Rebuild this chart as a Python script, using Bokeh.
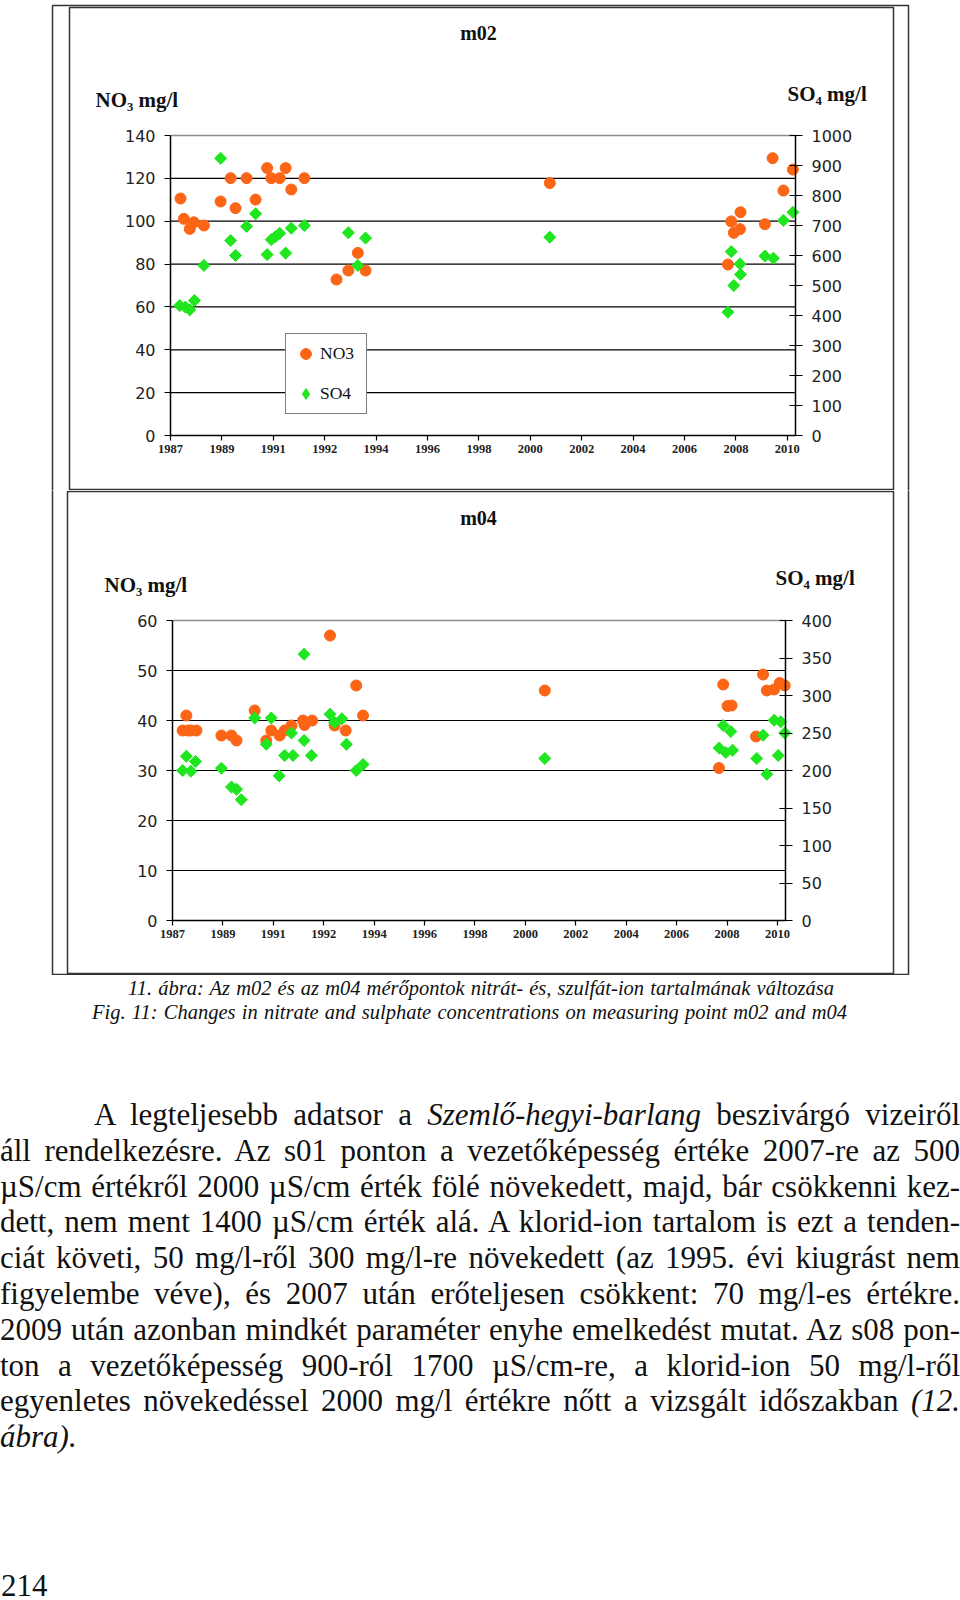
import numpy as np
from bokeh.plotting import figure
from bokeh.models import (Range1d, LinearAxis, FixedTicker, BoxAnnotation, Label,
                          Div, Legend)
from bokeh.layouts import column
from bokeh.embed import file_html
from bokeh.resources import INLINE

# ---------------- data ----------------
x_tick_pos = [1987, 1989, 1991, 1993, 1995, 1997, 1999, 2001, 2003, 2005, 2007, 2009, 2011]
x_tick_labels = ["1987", "1989", "1991", "1992", "1994", "1996", "1998",
                 "2000", "2002", "2004", "2006", "2008", "2010"]

m02_no3_x = [1987.39, 1987.52, 1987.75, 1987.91, 1988.30, 1988.95, 1989.34, 1989.53,
             1989.96, 1990.31, 1990.76, 1990.92, 1991.25, 1991.48, 1991.70, 1992.21,
             1993.46, 1993.92, 1994.29, 1994.59, 2001.76, 2008.69, 2008.82, 2008.92,
             2009.16, 2009.18, 2010.13, 2010.43, 2010.85, 2011.22]
m02_no3 = [110.6, 101.1, 96.4, 99.5, 98.0, 109.2, 120.1, 106.1, 120.1, 110.1, 124.8,
           120.1, 120.1, 124.8, 114.8, 120.1, 72.8, 77.0, 85.2, 77.0, 117.8, 79.8,
           99.9, 94.6, 96.3, 104.2, 98.6, 129.4, 114.3, 124.1]

m02_so4_x = [1987.36, 1987.58, 1987.75, 1987.93, 1988.30, 1988.95, 1989.34, 1989.53,
             1989.96, 1990.31, 1990.76, 1990.92, 1991.09, 1991.25, 1991.48, 1991.70,
             1992.21, 1993.92, 1994.29, 1994.59, 2001.76, 2008.69, 2008.82, 2008.92,
             2009.16, 2009.18, 2010.13, 2010.46, 2010.85, 2011.22]
m02_so4 = [433, 428, 419, 450, 567, 924, 650, 600, 697, 739, 603, 653, 663, 674, 608,
           691, 700, 676, 567, 658, 661, 411, 613, 500, 572, 537, 598, 591, 717, 744]

m04_no3_x = [1987.40, 1987.55, 1987.62, 1987.73, 1987.95, 1988.94, 1989.34, 1989.54,
             1990.26, 1990.72, 1990.92, 1991.25, 1991.45, 1991.72, 1992.18, 1992.24,
             1992.54, 1993.25, 1993.43, 1993.87, 1994.29, 1994.56, 2001.77, 2008.85,
             2009.02, 2009.18, 2008.68, 2010.15, 2010.43, 2010.58, 2010.87, 2011.09,
             2011.29]
m04_no3 = [38.0, 41.0, 38.0, 38.0, 38.0, 37.0, 37.0, 36.0, 42.0, 36.0, 38.0, 37.0,
           38.0, 39.0, 40.0, 39.1, 40.0, 57.0, 39.0, 38.0, 47.0, 41.0, 46.0, 47.2,
           42.9, 43.0, 30.5, 36.8, 49.2, 46.0, 46.2, 47.5, 47.0]

m04_so4_x = [1987.40, 1987.55, 1987.73, 1987.91, 1988.94, 1989.34, 1989.54, 1989.73,
             1990.26, 1990.72, 1990.92, 1991.23, 1991.45, 1991.72, 1991.78, 1992.22,
             1992.22, 1992.51, 1993.25, 1993.43, 1993.72, 1993.90, 1994.29, 1994.56,
             2001.77, 2008.69, 2008.85, 2008.95, 2009.15, 2009.22, 2010.18, 2010.43,
             2010.58, 2010.87, 2011.03, 2011.13, 2011.29]
m04_so4 = [200, 219, 199, 212, 203, 178, 175, 161, 270, 235, 270, 193, 220, 250, 220,
           355, 240, 220, 275, 264, 269, 235, 200, 208, 216, 230, 260, 224, 252, 227,
           216, 247, 195, 267, 220, 265, 250]

series_names = ["NO3", "SO4"]

ORANGE = "#FB6515"
GREEN = "#1FE61F"
X0, X1 = 1987.0, 2011.32


def axis_style(**kw):
    base = dict(minor_tick_in=0, minor_tick_out=0, axis_line_color="black",
                axis_line_width=1.5, major_tick_line_color="black",
                major_tick_line_width=1.2, major_label_text_color="#222222")
    base.update(kw)
    return base


def make_chart(H, fl, fr, ft, fb, y_max, y_step, r_max, r_step, title,
               no3_x, no3, so4_x, so4, nl, sl, legend=False):
    # fl/fr: pixel x of X0/X1 ; ft/fb: pixel y (from top) of y_max / 0
    xs = (X1 - X0) / (fr - fl)
    ys = y_max / (fb - ft)
    rs = r_max / (fb - ft)
    p = figure(width=960, height=H, title=None,
               x_range=Range1d(X0 - fl * xs, X1 + (960 - fr) * xs),
               y_range=Range1d(-(H - fb) * ys, y_max + ft * ys),
               output_backend="svg", toolbar_location=None,
               x_axis_type=None, y_axis_type=None, min_border=0,
               background_fill_color="white", border_fill_color="white",
               outline_line_color=None)
    p.margin = (0, 0, 0, 0)
    p.extra_y_ranges = {"so4": Range1d(-(H - fb) * rs, r_max + ft * rs)}

    left_ticks = list(range(0, y_max + 1, y_step))
    right_ticks = list(range(0, r_max + 1, r_step))

    # horizontal grid lines (left-axis ticks) and grey top line
    p.segment(x0=[X0] * (len(left_ticks) - 2), x1=[X1] * (len(left_ticks) - 2),
              y0=left_ticks[1:-1], y1=left_ticks[1:-1], line_color="black",
              line_width=1.2)
    p.segment(x0=[X0], x1=[X1], y0=[y_max], y1=[y_max], line_color="#8c8c8c",
              line_width=1.5)

    la = LinearAxis(fixed_location=X0, bounds=(0, y_max),
                    ticker=FixedTicker(ticks=left_ticks),
                    **axis_style(major_tick_in=0, major_tick_out=6, major_label_standoff=9,
                                 major_label_text_font="DejaVu Sans",
                                 major_label_text_font_size="16px"))
    p.add_layout(la, "left")

    ra = LinearAxis(y_range_name="so4", fixed_location=X1, bounds=(0, r_max),
                    ticker=FixedTicker(ticks=right_ticks),
                    **axis_style(major_tick_in=6, major_tick_out=7, major_label_standoff=9,
                                 major_label_text_font="DejaVu Sans",
                                 major_label_text_font_size="16px"))
    p.add_layout(ra, "right")

    ba = LinearAxis(fixed_location=0, bounds=(X0, X1),
                    ticker=FixedTicker(ticks=x_tick_pos),
                    major_label_overrides=dict(zip(x_tick_pos, x_tick_labels)),
                    **axis_style(major_tick_in=0, major_tick_out=5, major_label_standoff=4,
                                 major_label_text_font="Liberation Serif",
                                 major_label_text_font_style="bold",
                                 major_label_text_font_size="12.5px"))
    p.add_layout(ba, "below")

    r1 = p.scatter(no3_x, no3, marker="circle", size=11, fill_color=ORANGE,
                   line_color=ORANGE)
    # narrow diamond underneath (used as legend swatch, since legends ignore angle)
    r2k = p.scatter(so4_x, so4, marker="diamond", size=11, fill_color=GREEN,
                    line_color=GREEN, y_range_name="so4")
    p.scatter(so4_x, so4, marker="square", angle=np.pi / 4, size=8.5,
              fill_color=GREEN, line_color=GREEN, y_range_name="so4")

    if legend:
        lg = Legend(items=[(series_names[0], [r1]), (series_names[1], [r2k])],
                    location=(285, H - 414), margin=0, padding=6, spacing=13,
                    glyph_width=27, glyph_height=27, label_standoff=1, label_width=40,
                    label_height=27,
                    label_text_font="Liberation Serif", label_text_font_size="17.5px",
                    label_text_color="#111111", border_line_color="black",
                    border_line_width=1.2, background_fill_color="white",
                    background_fill_alpha=1.0)
        p.add_layout(lg)

    p.add_layout(Label(x=478, y=title[1], x_units="canvas", y_units="canvas",
                       text=title[0], text_align="center", text_baseline="alphabetic",
                       text_font="Liberation Serif", text_font_style="bold",
                       text_font_size="20px", text_color="#111111"))
    p.add_layout(Label(x=nl[0], y=nl[1], x_units="canvas", y_units="canvas",
                       text="NO\u2083 mg/l", text_align="left", text_baseline="alphabetic",
                       text_font="Liberation Serif", text_font_style="bold",
                       text_font_size="21px", text_color="#111111"))
    p.add_layout(Label(x=sl[0], y=sl[1], x_units="canvas", y_units="canvas",
                       text="SO\u2084 mg/l", text_align="left", text_baseline="alphabetic",
                       text_font="Liberation Serif", text_font_style="bold",
                       text_font_size="21px", text_color="#111111"))
    return p


p1 = make_chart(490, 170, 795, 135, 435, 140, 20, 1000, 100, ("m02", 32),
                m02_no3_x, m02_no3, m02_so4_x, m02_so4, (95, 99), (787, 93),
                legend=True)
p2 = make_chart(485, 172, 785, 130, 430, 60, 10, 400, 50, ("m04", 27),
                m04_no3_x, m04_no3, m04_so4_x, m04_so4, (104, 94), (775, 87))


# page frames (canvas units, y measured downward from canvas top)
def frame_box(p, left, right, top, bottom):
    p.add_layout(BoxAnnotation(left=left, right=right, top=top, bottom=bottom,
                               left_units="canvas", right_units="canvas",
                               top_units="canvas", bottom_units="canvas",
                               fill_color=None, fill_alpha=0, line_color="#333333",
                               line_width=1.5, line_alpha=1.0))


frame_box(p1, 52, 908, 5, 530)      # outer page frame (upper part)
frame_box(p1, 69, 893, 7, 489)      # m02 box
frame_box(p2, 52, 908, -40, 484)    # outer page frame (lower part)
frame_box(p2, 67, 893, 1, 483)      # m04 box

# ---------------- text below the charts ----------------
caption1 = "11. ábra: Az m02 és az m04 mérőpontok nitrát- és, szulfát-ion tartalmának változása"
caption2 = "Fig. 11: Changes in nitrate and sulphate concentrations on measuring point m02 and m04"
body_lines = [
    "A legteljesebb adatsor a <i>Szemlő-hegyi-barlang</i> beszivárgó vizeiről",
    "áll rendelkezésre. Az s01 ponton a vezetőképesség értéke 2007-re az 500",
    "µS/cm értékről 2000 µS/cm érték fölé növekedett, majd, bár csökkenni kez-",
    "dett, nem ment 1400 µS/cm érték alá. A klorid-ion tartalom is ezt a tenden-",
    "ciát követi, 50 mg/l-ről 300 mg/l-re növekedett (az 1995. évi kiugrást nem",
    "figyelembe véve), és 2007 után erőteljesen csökkent: 70 mg/l-es értékre.",
    "2009 után azonban mindkét paraméter enyhe emelkedést mutat. Az s08 pon-",
    "ton a vezetőképesség 900-ról 1700 µS/cm-re, a klorid-ion 50 mg/l-ről",
    "egyenletes növekedéssel 2000 mg/l értékre nőtt a vizsgált időszakban <i>(12.</i>",
    "<i>ábra).</i>",
]
page_number = "214"

just = "text-align:justify;text-align-last:justify;"
parts = ['<div style="position:relative;width:960px;height:625px;'
         'font-family:\'Liberation Serif\',serif;color:#111;">']
parts.append('<div style="position:absolute;left:128px;top:1px;width:706px;'
             'font-size:20.5px;line-height:24px;font-style:italic;' + just + '">'
             + caption1 + '</div>')
parts.append('<div style="position:absolute;left:92px;top:25px;width:755px;'
             'font-size:20.5px;line-height:24px;font-style:italic;' + just + '">'
             + caption2 + '</div>')
parts.append('<div style="position:absolute;left:0px;top:122px;width:960px;'
             'font-size:31px;line-height:35.8px;">')
for i, ln in enumerate(body_lines):
    if i == 0:
        parts.append('<div style="padding-left:94px;' + just + '">' + ln + '</div>')
    elif i == len(body_lines) - 1:
        parts.append('<div style="text-align:left;">' + ln + '</div>')
    else:
        parts.append('<div style="' + just + '">' + ln + '</div>')
parts.append('</div>')
parts.append('<div style="position:absolute;left:1px;top:593px;font-size:31px;'
             'line-height:36px;">' + page_number + '</div>')
parts.append('</div>')

div = Div(text="".join(parts), width=960, height=625, margin=(0, 0, 0, 0))

layout = column(p1, p2, div, spacing=0)
open("out.html", "w").write(file_html(layout, INLINE))
